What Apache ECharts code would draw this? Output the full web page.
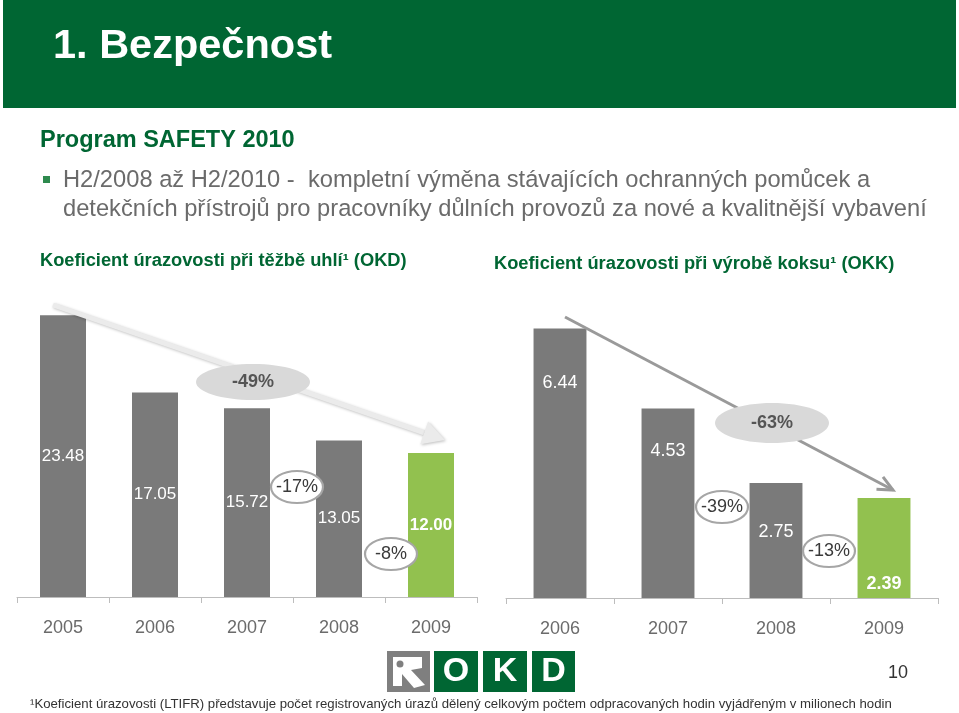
<!DOCTYPE html>
<html>
<head>
<meta charset="utf-8">
<script src="https://cdn.jsdelivr.net/npm/echarts@6/dist/echarts.min.js"></script>
<style>
html,body{margin:0;padding:0;background:#fff;}
#c{width:959px;height:713px;}
</style>
</head>
<body>
<div id="c"></div>
<script>
// ---- data ----
const leftCategories = ['2005', '2006', '2007', '2008', '2009'];
const leftValues = [23.48, 17.05, 15.72, 13.05, 12.00];
const leftChanges = ['-49%', '-17%', '-8%'];
const rightCategories = ['2006', '2007', '2008', '2009'];
const rightValues = [6.44, 4.53, 2.75, 2.39];
const rightChanges = ['-63%', '-39%', '-13%'];

const FONT = '"Liberation Sans", Arial, Helvetica, sans-serif';
const GRAY = '#7a7a7a';
const GREEN_BAR = '#92c14f';
const DARK_GREEN = '#006633';

const chart = echarts.init(document.getElementById('c'), null, {renderer: 'canvas'});

function barData(values, labelFn) {
  return values.map((v, i) => {
    const last = i === values.length - 1;
    return {
      value: v,
      itemStyle: {color: last ? GREEN_BAR : GRAY},
      label: Object.assign({fontWeight: last ? 'bold' : 'normal'}, labelFn(i, last))
    };
  });
}

const rightLabelPos = [
  {position: 'insideTop', distance: 46},
  {position: 'insideTop', distance: 34},
  {position: 'insideTop', distance: 40},
  {position: 'insideBottom', distance: 5}
];

function xAxisCfg(gridIndex, cats, fs, margin) {
  return {
    type: 'category', gridIndex: gridIndex, data: cats,
    axisLine: {lineStyle: {color: '#bdbdbd', width: 1}},
    axisTick: {show: true, length: 6, lineStyle: {color: '#bdbdbd'}},
    axisLabel: {color: '#6b6b6b', fontSize: fs, fontFamily: FONT, margin: margin}
  };
}

function txt(text, x, y, font, fill, align, extra) {
  return Object.assign({
    type: 'text', z: 100,
    style: {text: text, x: x, y: y, font: font, fill: fill, align: align || 'left', verticalAlign: 'middle'}
  }, extra || {});
}

function ellipseLabel(cx, cy, rx, ry, text, filled) {
  return [
    {type: 'ellipse', z: 90, shape: {cx: cx, cy: cy, rx: rx, ry: ry},
     style: filled ? {fill: '#d9d9d9', stroke: null} : {fill: '#ffffff', stroke: '#a6a6a6', lineWidth: 2.2}},
    txt(text, cx, cy, (filled ? 'bold ' : '') + '18px ' + FONT, filled ? '#555555' : '#3a3a3a', 'center')
  ];
}

// arrow helpers (annotation only)
function arrowHead(x1, y1, x2, y2, len, half) {
  const dx = x2 - x1, dy = y2 - y1, L = Math.sqrt(dx * dx + dy * dy);
  const ux = dx / L, uy = dy / L, nx = -uy, ny = ux;
  const bx = x2 - ux * len, by = y2 - uy * len;
  return {back: [bx, by], pts: [[bx + nx * half, by + ny * half], [x2, y2], [bx - nx * half, by - ny * half]]};
}

const la = arrowHead(53, 305, 445, 440, 22, 12);
const ra = arrowHead(565, 317, 893, 490, 15, 7);

const graphics = [
  // header
  {type: 'rect', z: 1, shape: {x: 3, y: 0, width: 953, height: 108}, style: {fill: '#006633'}},
  txt('1. Bezpečnost', 53, 47, 'bold 41.5px ' + FONT, '#ffffff'),
  txt('Program SAFETY 2010', 40, 141, 'bold 23.5px ' + FONT, DARK_GREEN),
  {type: 'rect', z: 100, shape: {x: 43, y: 176, width: 7, height: 7}, style: {fill: '#2e8a4e'}},
  txt('H2/2008 až H2/2010 -  kompletní výměna stávajících ochranných pomůcek a', 63, 180, '23.7px ' + FONT, '#6b6b6b'),
  txt('detekčních přístrojů pro pracovníky důlních provozů za nové a kvalitnější vybavení', 63, 209, '23.7px ' + FONT, '#6b6b6b'),
  txt('Koeficient úrazovosti při těžbě uhlí¹ (OKD)', 40, 261, 'bold 18.3px ' + FONT, DARK_GREEN),
  txt('Koeficient úrazovosti při výrobě koksu¹ (OKK)', 494, 264, 'bold 18.3px ' + FONT, DARK_GREEN),
  // left arrow (light)
  {type: 'line', z: 80, shape: {x1: 53, y1: 305, x2: la.back[0], y2: la.back[1]},
   style: {stroke: '#ebebeb', lineWidth: 5, shadowBlur: 3, shadowColor: 'rgba(0,0,0,0.25)', shadowOffsetX: 1, shadowOffsetY: 1}},
  {type: 'polygon', z: 80, shape: {points: la.pts},
   style: {fill: '#ebebeb', shadowBlur: 3, shadowColor: 'rgba(0,0,0,0.25)', shadowOffsetX: 1, shadowOffsetY: 1}},
  // right arrow
  {type: 'line', z: 80, shape: {x1: 565, y1: 317, x2: 893, y2: 490}, style: {stroke: '#9a9a9a', lineWidth: 3}},
  {type: 'polyline', z: 80, shape: {points: ra.pts}, style: {stroke: '#9a9a9a', lineWidth: 3, fill: null}},
  // logo
  {type: 'rect', z: 100, shape: {x: 387, y: 651, width: 43, height: 41}, style: {fill: '#7f7f7f'}},
  {type: 'polygon', z: 101, shape: {points: [[393, 657], [422, 657], [422, 668], [411, 670], [425, 685], [414, 688], [402, 674], [402, 686], [393, 686]]}, style: {fill: '#ffffff'}},
  {type: 'circle', z: 102, shape: {cx: 400, cy: 664, r: 3.5}, style: {fill: '#7f7f7f'}},
  {type: 'rect', z: 100, shape: {x: 434, y: 651, width: 44, height: 41}, style: {fill: DARK_GREEN}},
  {type: 'rect', z: 100, shape: {x: 483, y: 651, width: 44, height: 41}, style: {fill: DARK_GREEN}},
  {type: 'rect', z: 100, shape: {x: 532, y: 651, width: 43, height: 41}, style: {fill: DARK_GREEN}},
  txt('O', 456, 672, 'bold 34px ' + FONT, '#ffffff', 'center'),
  txt('K', 505, 672, 'bold 34px ' + FONT, '#ffffff', 'center'),
  txt('D', 553.5, 672, 'bold 34px ' + FONT, '#ffffff', 'center'),
  txt('10', 898, 673, '18px ' + FONT, '#333333', 'center'),
  txt('¹Koeficient úrazovosti (LTIFR) představuje počet registrovaných úrazů dělený celkovým počtem odpracovaných hodin vyjádřeným v milionech hodin', 30, 704, '13.2px ' + FONT, '#333333')
]
.concat(ellipseLabel(253, 382, 57, 18, leftChanges[0], true))
.concat(ellipseLabel(297, 487, 26, 16, leftChanges[1], false))
.concat(ellipseLabel(391, 554, 26, 16, leftChanges[2], false))
.concat(ellipseLabel(772, 423, 57, 20, rightChanges[0], true))
.concat(ellipseLabel(722, 507, 26, 16, rightChanges[1], false))
.concat(ellipseLabel(829, 551, 26, 16, rightChanges[2], false));

const fmt2 = (p) => Number(p.value).toFixed(2);

const option = {
  animation: false,
  backgroundColor: '#ffffff',
  grid: [
    {left: 17, top: 297, width: 460, height: 300},
    {left: 506, top: 305, width: 432, height: 293}
  ],
  xAxis: [xAxisCfg(0, leftCategories, 18, 22), xAxisCfg(1, rightCategories, 18, 22)],
  yAxis: [
    {type: 'value', gridIndex: 0, min: 0, max: 25, show: false},
    {type: 'value', gridIndex: 1, min: 0, max: 7, show: false}
  ],
  series: [
    {
      type: 'bar', xAxisIndex: 0, yAxisIndex: 0, barWidth: '50%',
      label: {show: true, position: 'inside', color: '#ffffff', fontSize: 17, fontFamily: FONT, formatter: fmt2},
      data: barData(leftValues, () => ({position: 'inside'}))
    },
    {
      type: 'bar', xAxisIndex: 1, yAxisIndex: 1, barWidth: '49%',
      label: {show: true, color: '#ffffff', fontSize: 18, fontFamily: FONT, formatter: fmt2},
      data: barData(rightValues, (i) => rightLabelPos[i])
    }
  ],
  graphic: graphics
};
chart.setOption(option);
</script>
</body>
</html>
